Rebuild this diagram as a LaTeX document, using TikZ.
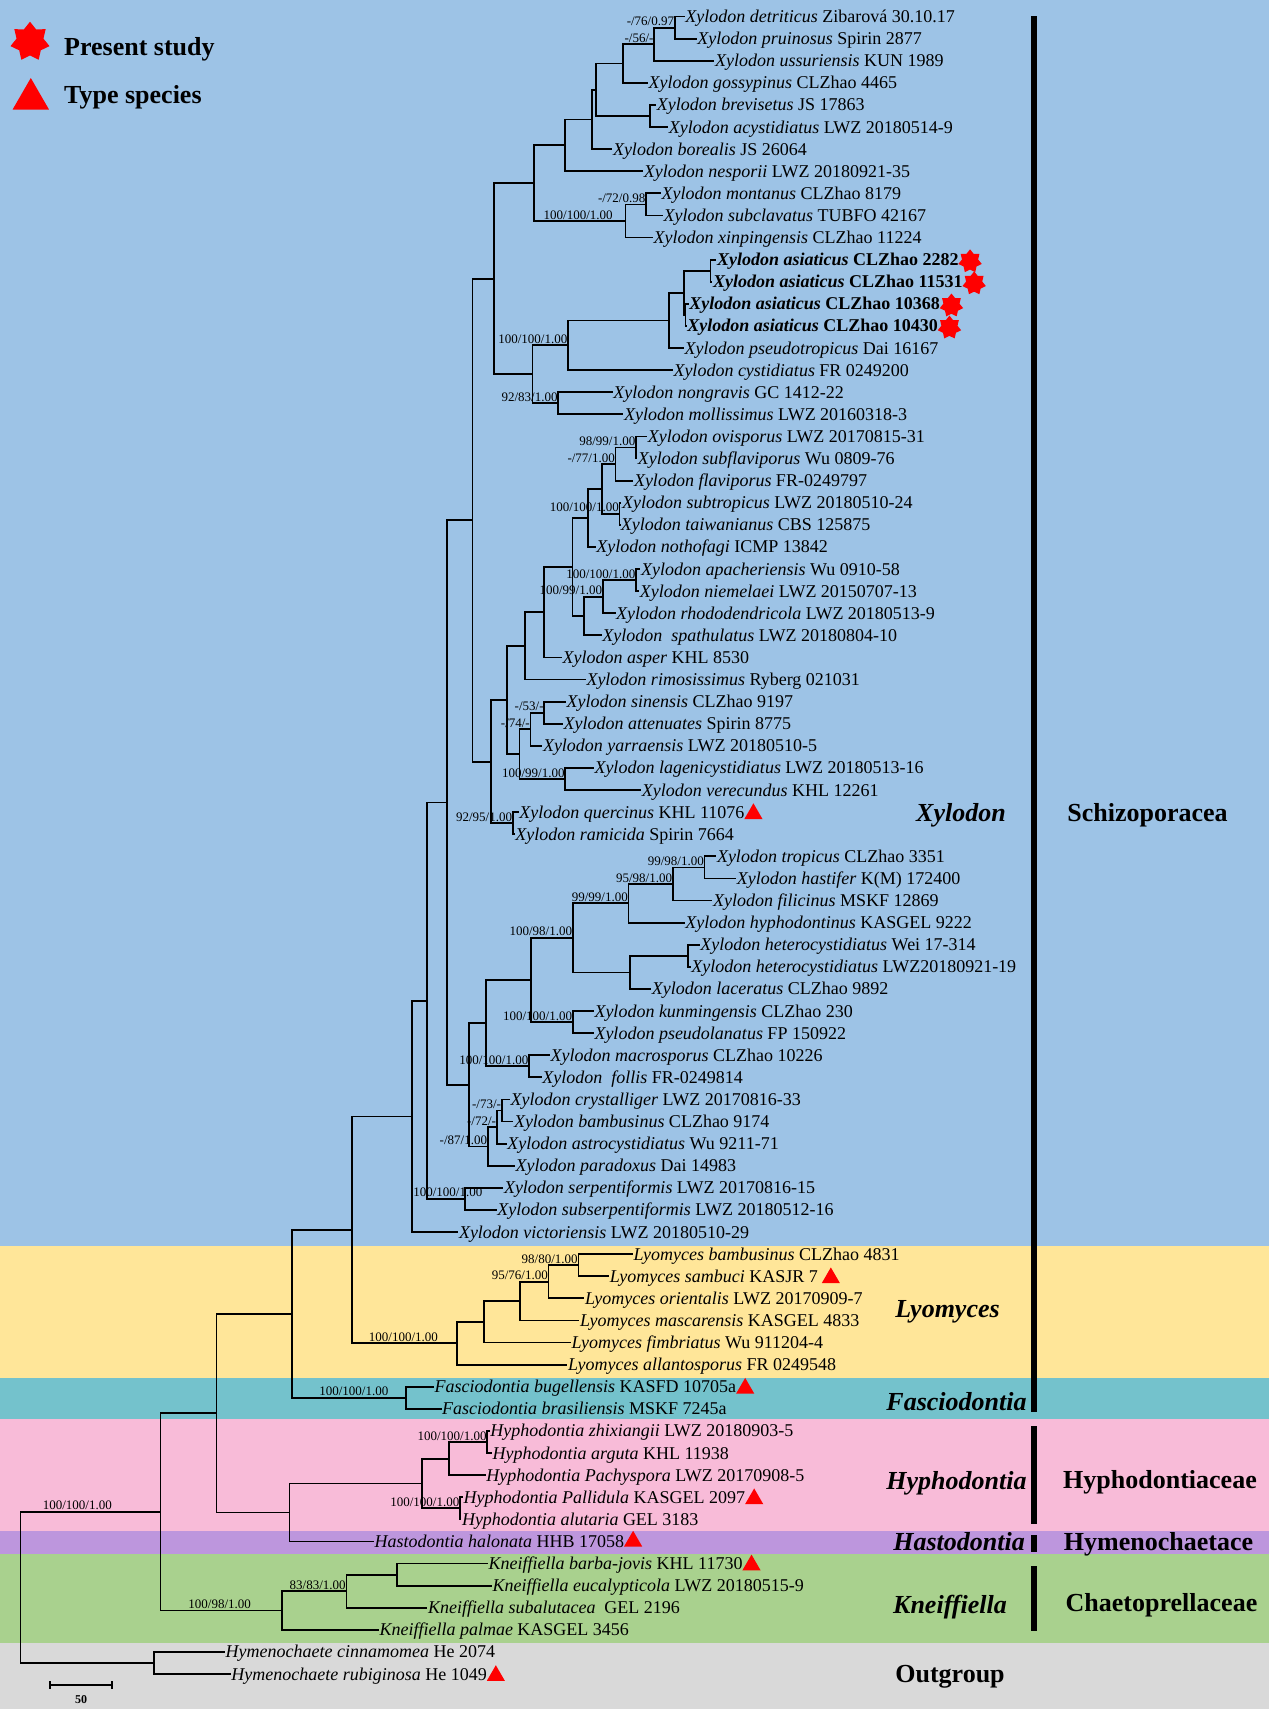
\documentclass[tikz,border=0pt]{standalone}
\usepackage{fontspec}
\setmainfont{Liberation Serif}
\usetikzlibrary{positioning,shapes.geometric}
\definecolor{xylbg}{HTML}{9DC3E6}
\definecolor{lyobg}{HTML}{FFE699}
\definecolor{fasbg}{HTML}{74C2CC}
\definecolor{hypbg}{HTML}{F8BBD8}
\definecolor{hasbg}{HTML}{BD96DD}
\definecolor{knebg}{HTML}{A9D18E}
\definecolor{outbg}{HTML}{D9D9D9}
\begin{document}
\begin{tikzpicture}[x=1pt, y=-1pt,
    br/.style={line width=1.8pt, line join=miter},
    tip/.style={anchor=base west, yshift=-6pt, inner xsep=0.5pt, inner ysep=0pt, font=\fontsize{18}{20}\selectfont},
    bs/.style={anchor=base east, yshift=2pt, inner sep=0.5pt, font=\fontsize{13}{14}\selectfont},
    genus/.style={anchor=base, inner sep=0pt, font=\fontsize{26}{28}\selectfont\bfseries\itshape},
    family/.style={anchor=base, inner sep=0pt, font=\fontsize{26}{28}\selectfont\bfseries},
    legtxt/.style={anchor=base west, inner sep=0pt, font=\fontsize{26}{28}\selectfont\bfseries},
    typesp/.style={regular polygon, regular polygon sides=3, fill=red, inner sep=0pt, minimum size=21pt},
    newsp/.style={star, star points=7, star point ratio=1.45, fill=red, inner sep=0pt, minimum size=24pt},
    famrule/.style={line width=6pt}]
  \useasboundingbox (0,0) rectangle (1269,1709);
  % bands
  \fill[xylbg] (0,0) rectangle (1269,1245.7);
  \fill[lyobg] (0,1245.7) rectangle (1269,1378.3);
  \fill[fasbg] (0,1378.3) rectangle (1269,1419.3);
  \fill[hypbg] (0,1419.3) rectangle (1269,1531);
  \fill[hasbg] (0,1531) rectangle (1269,1554.3);
  \fill[knebg] (0,1554.3) rectangle (1269,1643.3);
  \fill[outbg] (0,1643.3) rectangle (1269,1709);

  % legend
  \node[newsp, minimum size=40pt] (lgstar) at (30,41.7) {};
  \node[legtxt] (lgnew) at (64,55) {Present study};
  \node[typesp, minimum size=42pt] (lgtri) at (30.8,99) {};
  \node[legtxt] (lgtype) at (64,103.3) {Type species};

  % tips
  \path (684.7,16.5) coordinate (t1) node[tip] (l1) {\textit{Xylodon detriticus} Zibarová 30.10.17};
  \path (696.6,38.6) coordinate (t2) node[tip] (l2) {\textit{Xylodon pruinosus} Spirin 2877};
  \path (714.4,60.7) coordinate (t3) node[tip] (l3) {\textit{Xylodon ussuriensis} KUN 1989};
  \path (647.9,82.8) coordinate (t4) node[tip] (l4) {\textit{Xylodon gossypinus} CLZhao 4465};
  \path (656.2,104.9) coordinate (t5) node[tip] (l5) {\textit{Xylodon brevisetus} JS 17863};
  \path (668.1,127.0) coordinate (t6) node[tip] (l6) {\textit{Xylodon acystidiatus} LWZ 20180514-9};
  \path (612.3,149.1) coordinate (t7) node[tip] (l7) {\textit{Xylodon borealis} JS 26064};
  \path (643.2,171.2) coordinate (t8) node[tip] (l8) {\textit{Xylodon nesporii} LWZ 20180921-35};
  \path (661.0,193.3) coordinate (t9) node[tip] (l9) {\textit{Xylodon montanus} CLZhao 8179};
  \path (663.0,215.4) coordinate (t10) node[tip] (l10) {\textit{Xylodon subclavatus} TUBFO 42167};
  \path (653.0,237.5) coordinate (t11) node[tip] (l11) {\textit{Xylodon xinpingensis} CLZhao 11224};
  \path (716.3,259.6) coordinate (t12) node[tip] (l12) {\textbf{\textit{Xylodon asiaticus} CLZhao 2282}};
  \path (712.4,281.7) coordinate (t13) node[tip] (l13) {\textbf{\textit{Xylodon asiaticus} CLZhao 11531}};
  \path (688.7,303.8) coordinate (t14) node[tip] (l14) {\textbf{\textit{Xylodon asiaticus} CLZhao 10368}};
  \path (686.7,325.9) coordinate (t15) node[tip] (l15) {\textbf{\textit{Xylodon asiaticus} CLZhao 10430}};
  \path (683.9,348.0) coordinate (t16) node[tip] (l16) {\textit{Xylodon pseudotropicus} Dai 16167};
  \path (672.8,370.1) coordinate (t17) node[tip] (l17) {\textit{Xylodon cystidiatus} FR 0249200};
  \path (612.7,392.2) coordinate (t18) node[tip] (l18) {\textit{Xylodon nongravis} GC 1412-22};
  \path (623.4,414.3) coordinate (t19) node[tip] (l19) {\textit{Xylodon mollissimus} LWZ 20160318-3};
  \path (647.1,436.4) coordinate (t20) node[tip] (l20) {\textit{Xylodon ovisporus} LWZ 20170815-31};
  \path (637.2,458.5) coordinate (t21) node[tip] (l21) {\textit{Xylodon subflaviporus} Wu 0809-76};
  \path (633.3,480.6) coordinate (t22) node[tip] (l22) {\textit{Xylodon flaviporus} FR-0249797};
  \path (621.4,502.7) coordinate (t23) node[tip] (l23) {\textit{Xylodon subtropicus} LWZ 20180510-24};
  \path (620.2,524.8) coordinate (t24) node[tip] (l24) {\textit{Xylodon taiwanianus} CBS 125875};
  \path (595.7,546.9) coordinate (t25) node[tip] (l25) {\textit{Xylodon nothofagi} ICMP 13842};
  \path (640.4,569.0) coordinate (t26) node[tip] (l26) {\textit{Xylodon apacheriensis} Wu 0910-58};
  \path (639.2,591.1) coordinate (t27) node[tip] (l27) {\textit{Xylodon niemelaei} LWZ 20150707-13};
  \path (615.5,613.2) coordinate (t28) node[tip] (l28) {\textit{Xylodon rhododendricola} LWZ 20180513-9};
  \path (601.7,635.3) coordinate (t29) node[tip] (l29) {\textit{Xylodon\ \ spathulatus} LWZ 20180804-10};
  \path (562.0,657.4) coordinate (t30) node[tip] (l30) {\textit{Xylodon asper} KHL 8530};
  \path (585.8,679.5) coordinate (t31) node[tip] (l31) {\textit{Xylodon rimosissimus} Ryberg 021031};
  \path (566.0,701.6) coordinate (t32) node[tip] (l32) {\textit{Xylodon sinensis} CLZhao 9197};
  \path (562.9,723.7) coordinate (t33) node[tip] (l33) {\textit{Xylodon attenuates} Spirin 8775};
  \path (542.3,745.8) coordinate (t34) node[tip] (l34) {\textit{Xylodon yarraensis} LWZ 20180510-5};
  \path (593.8,767.9) coordinate (t35) node[tip] (l35) {\textit{Xylodon lagenicystidiatus} LWZ 20180513-16};
  \path (641.2,790.0) coordinate (t36) node[tip] (l36) {\textit{Xylodon verecundus} KHL 12261};
  \path (518.6,812.1) coordinate (t37) node[tip] (l37) {\textit{Xylodon quercinus} KHL 11076};
  \path (514.7,834.2) coordinate (t38) node[tip] (l38) {\textit{Xylodon ramicida} Spirin 7664};
  \path (716.3,856.3) coordinate (t39) node[tip] (l39) {\textit{Xylodon tropicus} CLZhao 3351};
  \path (736.1,878.4) coordinate (t40) node[tip] (l40) {\textit{Xylodon hastifer} K(M) 172400};
  \path (712.4,900.5) coordinate (t41) node[tip] (l41) {\textit{Xylodon filicinus} MSKF 12869};
  \path (684.7,922.6) coordinate (t42) node[tip] (l42) {\textit{Xylodon hyphodontinus} KASGEL 9222};
  \path (699.7,944.7) coordinate (t43) node[tip] (l43) {\textit{Xylodon heterocystidiatus} Wei 17-314};
  \path (690.6,966.8) coordinate (t44) node[tip] (l44) {\textit{Xylodon heterocystidiatus} LWZ20180921-19};
  \path (651.1,988.9) coordinate (t45) node[tip] (l45) {\textit{Xylodon laceratus} CLZhao 9892};
  \path (593.8,1011.0) coordinate (t46) node[tip] (l46) {\textit{Xylodon kunmingensis} CLZhao 230};
  \path (593.8,1033.1) coordinate (t47) node[tip] (l47) {\textit{Xylodon pseudolanatus} FP 150922};
  \path (550.0,1055.2) coordinate (t48) node[tip] (l48) {\textit{Xylodon macrosporus} CLZhao 10226};
  \path (541.7,1077.3) coordinate (t49) node[tip] (l49) {\textit{Xylodon\ \ follis} FR-0249814};
  \path (510.0,1099.4) coordinate (t50) node[tip] (l50) {\textit{Xylodon crystalliger} LWZ 20170816-33};
  \path (513.3,1121.5) coordinate (t51) node[tip] (l51) {\textit{Xylodon bambusinus} CLZhao 9174};
  \path (506.7,1143.6) coordinate (t52) node[tip] (l52) {\textit{Xylodon astrocystidiatus} Wu 9211-71};
  \path (515.0,1165.7) coordinate (t53) node[tip] (l53) {\textit{Xylodon paradoxus} Dai 14983};
  \path (503.3,1187.8) coordinate (t54) node[tip] (l54) {\textit{Xylodon serpentiformis} LWZ 20170816-15};
  \path (496.7,1209.9) coordinate (t55) node[tip] (l55) {\textit{Xylodon subserpentiformis} LWZ 20180512-16};
  \path (458.3,1232.0) coordinate (t56) node[tip] (l56) {\textit{Xylodon victoriensis} LWZ 20180510-29};
  \path (633.0,1254.1) coordinate (t57) node[tip] (l57) {\textit{Lyomyces bambusinus} CLZhao 4831};
  \path (609.2,1276.2) coordinate (t58) node[tip] (l58) {\textit{Lyomyces sambuci} KASJR 7};
  \path (584.3,1298.3) coordinate (t59) node[tip] (l59) {\textit{Lyomyces orientalis} LWZ 20170909-7};
  \path (579.4,1320.4) coordinate (t60) node[tip] (l60) {\textit{Lyomyces mascarensis} KASGEL 4833};
  \path (570.9,1342.5) coordinate (t61) node[tip] (l61) {\textit{Lyomyces fimbriatus} Wu 911204-4};
  \path (567.4,1364.6) coordinate (t62) node[tip] (l62) {\textit{Lyomyces allantosporus} FR 0249548};
  \path (434.0,1386.7) coordinate (t63) node[tip] (l63) {\textit{Fasciodontia bugellensis} KASFD 10705a};
  \path (441.5,1408.8) coordinate (t64) node[tip] (l64) {\textit{Fasciodontia brasiliensis} MSKF 7245a};
  \path (489.6,1430.9) coordinate (t65) node[tip] (l65) {\textit{Hyphodontia zhixiangii} LWZ 20180903-5};
  \path (492.0,1453.0) coordinate (t66) node[tip] (l66) {\textit{Hyphodontia arguta} KHL 11938};
  \path (485.6,1475.1) coordinate (t67) node[tip] (l67) {\textit{Hyphodontia Pachyspora} LWZ 20170908-5};
  \path (463.0,1497.2) coordinate (t68) node[tip] (l68) {\textit{Hyphodontia Pallidula} KASGEL 2097};
  \path (461.3,1519.3) coordinate (t69) node[tip] (l69) {\textit{Hyphodontia alutaria} GEL 3183};
  \path (373.9,1541.4) coordinate (t70) node[tip] (l70) {\textit{Hastodontia halonata} HHB 17058};
  \path (488.0,1563.5) coordinate (t71) node[tip] (l71) {\textit{Kneiffiella barba-jovis} KHL 11730};
  \path (492.0,1585.6) coordinate (t72) node[tip] (l72) {\textit{Kneiffiella eucalypticola} LWZ 20180515-9};
  \path (427.3,1607.7) coordinate (t73) node[tip] (l73) {\textit{Kneiffiella subalutacea}\ \ GEL 2196};
  \path (378.8,1629.8) coordinate (t74) node[tip] (l74) {\textit{Kneiffiella palmae} KASGEL 3456};
  \path (225.0,1651.9) coordinate (t75) node[tip] (l75) {\textit{Hymenochaete cinnamomea} He 2074};
  \path (230.7,1674.0) coordinate (t76) node[tip] (l76) {\textit{Hymenochaete rubiginosa} He 1049};

  % new and type species marks
  \node[newsp, right=1pt of l12.east] (s12) {};
  \node[newsp, right=1pt of l13.east] (s13) {};
  \node[newsp, right=1pt of l14.east] (s14) {};
  \node[newsp, right=1pt of l15.east] (s15) {};
  \node[typesp, right=2pt of l37.east] (y37) {};
  \node[typesp, right=6pt of l58.east] (y58) {};
  \node[typesp, right=2pt of l63.east] (y63) {};
  \node[typesp, right=2pt of l68.east] (y68) {};
  \node[typesp, right=2pt of l70.east] (y70) {};
  \node[typesp, right=2pt of l71.east] (y71) {};
  \node[typesp, right=2pt of l76.east] (y76) {};

  % internal nodes
  \coordinate (a1) at (674.8,27.6);
  \coordinate (a2) at (654.2,44.1);
  \coordinate (a3) at (622.6,63.5);
  \coordinate (a4) at (649.9,116.0);
  \coordinate (a5) at (595.7,89.7);
  \coordinate (a6) at (591.8,119.4);
  \coordinate (a7) at (565.3,145.3);
  \coordinate (a8) at (646.0,204.4);
  \coordinate (a9) at (625.4,221.0);
  \coordinate (a10) at (533.7,183.2);
  \coordinate (b1) at (710.4,270.7);
  \coordinate (b2) at (685.5,314.9);
  \coordinate (b3) at (683.9,292.8);
  \coordinate (b4) at (668.9,320.4);
  \coordinate (b5) at (568.0,345.3);
  \coordinate (b6) at (558.2,403.3);
  \coordinate (b7) at (532.5,374.3);
  \coordinate (a11) at (493.7,278.8);
  \coordinate (c1) at (636.0,447.5);
  \coordinate (c2) at (615.5,464.1);
  \coordinate (c3) at (619.5,513.8);
  \coordinate (c4) at (601.7,489.0);
  \coordinate (c5) at (587.8,518.0);
  \coordinate (c6) at (636.0,580.1);
  \coordinate (c7) at (602.8,596.6);
  \coordinate (c8) at (583.9,616.0);
  \coordinate (c9) at (572.5,567.0);
  \coordinate (c10) at (544.3,612.2);
  \coordinate (c11) at (524.6,645.9);
  \coordinate (d1) at (544.3,712.7);
  \coordinate (d2) at (530.5,729.2);
  \coordinate (d3) at (565.3,779.0);
  \coordinate (d4) at (519.4,754.1);
  \coordinate (d5) at (506.8,700.0);
  \coordinate (d6) at (512.7,823.2);
  \coordinate (d7) at (491.0,761.6);
  \coordinate (a12) at (472.4,520.2);
  \coordinate (e1) at (704.5,867.4);
  \coordinate (e2) at (672.8,884.0);
  \coordinate (e3) at (628.5,903.3);
  \coordinate (e4) at (687.9,955.8);
  \coordinate (e5) at (630.1,972.4);
  \coordinate (e6) at (572.8,937.9);
  \coordinate (e7) at (572.8,1022.1);
  \coordinate (e8) at (530.6,980.0);
  \coordinate (e9) at (529.0,1066.3);
  \coordinate (e10) at (485.7,1023.2);
  \coordinate (f1) at (501.7,1110.5);
  \coordinate (f2) at (496.7,1127.1);
  \coordinate (f3) at (487.7,1146.4);
  \coordinate (f4) at (469.0,1084.8);
  \coordinate (a13) at (446.7,802.5);
  \coordinate (f5) at (465.0,1198.9);
  \coordinate (f6) at (427.3,1000.7);
  \coordinate (f7) at (411.7,1116.4);
  \coordinate (g1) at (578.4,1265.2);
  \coordinate (g2) at (548.5,1281.8);
  \coordinate (g3) at (519.7,1301.1);
  \coordinate (g4) at (483.8,1321.8);
  \coordinate (g5) at (456.6,1343.2);
  \coordinate (h1) at (351.7,1229.8);
  \coordinate (h2) at (406.0,1397.8);
  \coordinate (h3) at (291.7,1313.8);
  \coordinate (i1) at (487.3,1442.0);
  \coordinate (i2) at (449.0,1458.6);
  \coordinate (i3) at (460.0,1508.3);
  \coordinate (i4) at (422.3,1483.5);
  \coordinate (i5) at (289.5,1512.5);
  \coordinate (i6) at (216.5,1413.2);
  \coordinate (k1) at (396.6,1574.6);
  \coordinate (k2) at (346.4,1591.2);
  \coordinate (k3) at (281.6,1610.5);
  \coordinate (k4) at (160.5,1511.9);
  \coordinate (o1) at (153.8,1663.0);
  \coordinate (root) at (20.5,1587.4);

  % branches
  \draw[br] (a1) |- (t1) (a1) |- (t2);
  \draw[br] (a2) |- (a1) (a2) |- (t3);
  \draw[br] (a3) |- (a2) (a3) |- (t4);
  \draw[br] (a4) |- (t5) (a4) |- (t6);
  \draw[br] (a5) |- (a3) (a5) |- (a4);
  \draw[br] (a6) |- (a5) (a6) |- (t7);
  \draw[br] (a7) |- (a6) (a7) |- (t8);
  \draw[br] (a8) |- (t9) (a8) |- (t10);
  \draw[br] (a9) |- (a8) (a9) |- (t11);
  \draw[br] (a10) |- (a7) (a10) |- (a9);
  \draw[br] (b1) |- (t12) (b1) |- (t13);
  \draw[br] (b2) |- (t14) (b2) |- (t15);
  \draw[br] (b3) |- (b1) (b3) |- (b2);
  \draw[br] (b4) |- (b3) (b4) |- (t16);
  \draw[br] (b5) |- (b4) (b5) |- (t17);
  \draw[br] (b6) |- (t18) (b6) |- (t19);
  \draw[br] (b7) |- (b5) (b7) |- (b6);
  \draw[br] (a11) |- (a10) (a11) |- (b7);
  \draw[br] (c1) |- (t20) (c1) |- (t21);
  \draw[br] (c2) |- (c1) (c2) |- (t22);
  \draw[br] (c3) |- (t23) (c3) |- (t24);
  \draw[br] (c4) |- (c2) (c4) |- (c3);
  \draw[br] (c5) |- (c4) (c5) |- (t25);
  \draw[br] (c6) |- (t26) (c6) |- (t27);
  \draw[br] (c7) |- (c6) (c7) |- (t28);
  \draw[br] (c8) |- (c7) (c8) |- (t29);
  \draw[br] (c9) |- (c5) (c9) |- (c8);
  \draw[br] (c10) |- (c9) (c10) |- (t30);
  \draw[br] (c11) |- (c10) (c11) |- (t31);
  \draw[br] (d1) |- (t32) (d1) |- (t33);
  \draw[br] (d2) |- (d1) (d2) |- (t34);
  \draw[br] (d3) |- (t35) (d3) |- (t36);
  \draw[br] (d4) |- (d2) (d4) |- (d3);
  \draw[br] (d5) |- (c11) (d5) |- (d4);
  \draw[br] (d6) |- (t37) (d6) |- (t38);
  \draw[br] (d7) |- (d5) (d7) |- (d6);
  \draw[br] (a12) |- (a11) (a12) |- (d7);
  \draw[br] (e1) |- (t39) (e1) |- (t40);
  \draw[br] (e2) |- (e1) (e2) |- (t41);
  \draw[br] (e3) |- (e2) (e3) |- (t42);
  \draw[br] (e4) |- (t43) (e4) |- (t44);
  \draw[br] (e5) |- (e4) (e5) |- (t45);
  \draw[br] (e6) |- (e3) (e6) |- (e5);
  \draw[br] (e7) |- (t46) (e7) |- (t47);
  \draw[br] (e8) |- (e6) (e8) |- (e7);
  \draw[br] (e9) |- (t48) (e9) |- (t49);
  \draw[br] (e10) |- (e8) (e10) |- (e9);
  \draw[br] (f1) |- (t50) (f1) |- (t51);
  \draw[br] (f2) |- (f1) (f2) |- (t52);
  \draw[br] (f3) |- (f2) (f3) |- (t53);
  \draw[br] (f4) |- (e10) (f4) |- (f3);
  \draw[br] (a13) |- (a12) (a13) |- (f4);
  \draw[br] (f5) |- (t54) (f5) |- (t55);
  \draw[br] (f6) |- (a13) (f6) |- (f5);
  \draw[br] (f7) |- (f6) (f7) |- (t56);
  \draw[br] (g1) |- (t57) (g1) |- (t58);
  \draw[br] (g2) |- (g1) (g2) |- (t59);
  \draw[br] (g3) |- (g2) (g3) |- (t60);
  \draw[br] (g4) |- (g3) (g4) |- (t61);
  \draw[br] (g5) |- (g4) (g5) |- (t62);
  \draw[br] (h1) |- (f7) (h1) |- (g5);
  \draw[br] (h2) |- (t63) (h2) |- (t64);
  \draw[br] (h3) |- (h1) (h3) |- (h2);
  \draw[br] (i1) |- (t65) (i1) |- (t66);
  \draw[br] (i2) |- (i1) (i2) |- (t67);
  \draw[br] (i3) |- (t68) (i3) |- (t69);
  \draw[br] (i4) |- (i2) (i4) |- (i3);
  \draw[br] (i5) |- (i4) (i5) |- (t70);
  \draw[br] (i6) |- (h3) (i6) |- (i5);
  \draw[br] (k1) |- (t71) (k1) |- (t72);
  \draw[br] (k2) |- (k1) (k2) |- (t73);
  \draw[br] (k3) |- (k2) (k3) |- (t74);
  \draw[br] (k4) |- (i6) (k4) |- (k3);
  \draw[br] (o1) |- (t75) (o1) |- (t76);
  \draw[br] (root) |- (k4) (root) |- (o1);

  % support values
  \node[bs] at (a1) {-/76/0.97};
  \node[bs] at (a2) {-/56/-};
  \node[bs] at (a8) {-/72/0.98};
  \node[bs, xshift=-12pt] at (a9) {100/100/1.00};
  \node[bs] at (b5) {100/100/1.00};
  \node[bs] at (b6) {92/83/1.00};
  \node[bs] at (c1) {98/99/1.00};
  \node[bs] at (c2) {-/77/1.00};
  \node[bs] at (c3) {100/100/1.00};
  \node[bs] at (c6) {100/100/1.00};
  \node[bs] at (c7) {100/99/1.00};
  \node[bs] at (d1) {-/53/-};
  \node[bs] at (d2) {-/74/-};
  \node[bs] at (d3) {100/99/1.00};
  \node[bs] at (d6) {92/95/1.00};
  \node[bs] at (e1) {99/98/1.00};
  \node[bs] at (e2) {95/98/1.00};
  \node[bs] at (e3) {99/99/1.00};
  \node[bs] at (e6) {100/98/1.00};
  \node[bs] at (e7) {100/100/1.00};
  \node[bs] at (e9) {100/100/1.00};
  \node[bs] at (f1) {-/73/-};
  \node[bs] at (f2) {-/72/-};
  \node[bs] at (f3) {-/87/1.00};
  \node[bs, xshift=18pt] at (f5) {100/100/1.00};
  \node[bs] at (g1) {98/80/1.00};
  \node[bs] at (g2) {95/76/1.00};
  \node[bs, xshift=-18pt] at (g5) {100/100/1.00};
  \node[bs, xshift=-17pt] at (h2) {100/100/1.00};
  \node[bs] at (i1) {100/100/1.00};
  \node[bs] at (i3) {100/100/1.00};
  \node[bs] at (k2) {83/83/1.00};
  \node[bs, xshift=-30pt] at (k3) {100/98/1.00};
  \node[bs, xshift=-48pt] at (k4) {100/100/1.00};

  % clade names
  \node[genus] (gxyl) at (961,821) {Xylodon};
  \node[genus] (glyo) at (947.5,1317) {Lyomyces};
  \node[genus] (gfas) at (956.5,1410) {Fasciodontia};
  \node[genus] (ghyp) at (956.5,1489) {Hyphodontia};
  \node[genus] (ghas) at (959,1550) {Hastodontia};
  \node[genus] (gkne) at (950,1613) {Kneiffiella};
  \node[family] (fout) at (950,1682) {Outgroup};
  \node[family] (fsch) at (1147.5,821) {Schizoporacea};
  \node[family] (fhyp) at (1160,1488) {Hyphodontiaceae};
  \node[family] (fhym) at (1158.5,1550) {Hymenochaetace};
  \node[family] (fcha) at (1161.5,1611) {Chaetoprellaceae};
  \draw[famrule] (1034,16) -- (1034,1412);
  \draw[famrule] (1034,1426) -- (1034,1524);
  \draw[famrule] (1034,1535) -- (1034,1552);
  \draw[famrule] (1034,1566) -- (1034,1631);

  % scale bar
  \coordinate (sb1) at (50.2,1685);
  \coordinate (sb2) at (111.7,1685);
  \draw[line width=1.6pt] (sb1) -- (sb2);
  \draw[line width=1.6pt] ([yshift=4pt]sb1) -- ([yshift=-4pt]sb1);
  \draw[line width=1.6pt] ([yshift=4pt]sb2) -- ([yshift=-4pt]sb2);
  \node[anchor=base, inner sep=0pt, font=\fontsize{12}{13}\selectfont\bfseries] (sblab) at (81,1703) {50};
\end{tikzpicture}
\end{document}
